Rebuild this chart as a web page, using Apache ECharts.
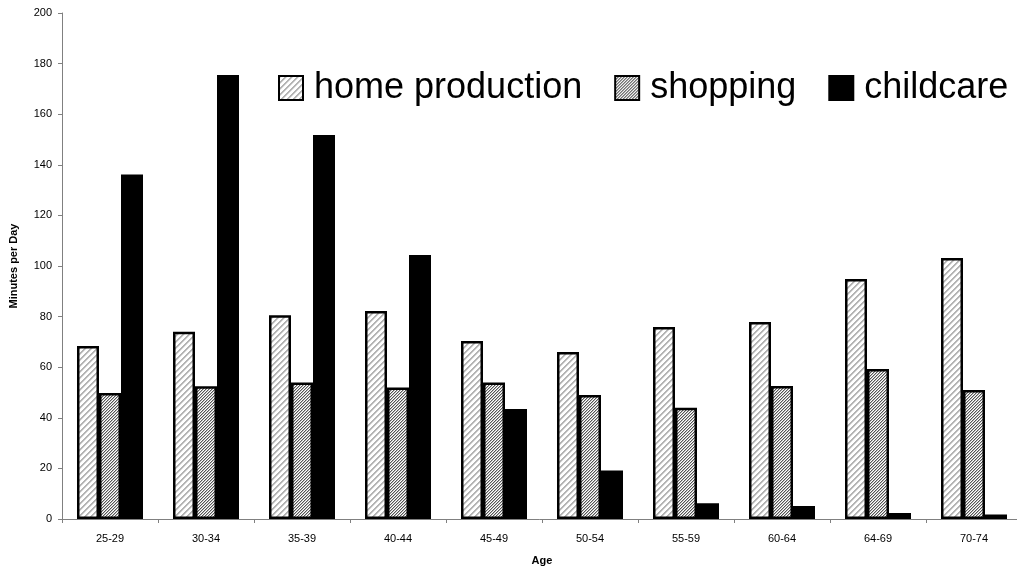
<!DOCTYPE html>
<html>
<head>
<meta charset="utf-8">
<script src="https://cdn.jsdelivr.net/npm/echarts@6/dist/echarts.min.js"></script>
<style>
  html, body { margin: 0; padding: 0; background: #fff; }
  #chart { width: 1017px; height: 573px; }
</style>
</head>
<body>
<div id="chart"></div>
<script>
// Age groups and daily minutes by activity
const ageGroups = ['25-29', '30-34', '35-39', '40-44', '45-49', '50-54', '55-59', '60-64', '64-69', '70-74'];
const homeProduction = [68.4, 74, 80.5, 82.2, 70.4, 66, 75.9, 77.9, 94.9, 103.2];
const shopping = [49.8, 52.5, 54, 52, 54, 49, 44, 52.6, 59.3, 51];
const childcare = [136.2, 175.5, 151.8, 104.3, 43.5, 19.2, 6.2, 5.1, 2.4, 1.8];
const yTicks = { min: 0, max: 200, step: 20 };

const FONT = 'Arial, "Liberation Sans", sans-serif';

// Build a repeating diagonal-stripe tile ("/" direction) pixel by pixel.
// shades maps (x + y) % size to a grey level; missing entries stay white.
function stripeTile(size, shades) {
  const c = document.createElement('canvas');
  c.width = size; c.height = size;
  const ctx = c.getContext('2d');
  const img = ctx.createImageData(size, size);
  for (let y = 0; y < size; y++) {
    for (let x = 0; x < size; x++) {
      const k = (x + y) % size;
      const g = shades[k] !== undefined ? shades[k] : 255;
      const i = (y * size + x) * 4;
      img.data[i] = g; img.data[i + 1] = g; img.data[i + 2] = g; img.data[i + 3] = 255;
    }
  }
  ctx.putImageData(img, 0, 0);
  return { image: c, repeat: 'repeat' };
}

const homeFill = stripeTile(6, { 0: 180, 1: 180, 2: 222 });
const shopFill = stripeTile(3, { 0: 85, 1: 185 });

const chart = echarts.init(document.getElementById('chart'), null, { renderer: 'canvas' });

const axisGrey = '#808080';

chart.setOption({
  animation: false,
  backgroundColor: '#fff',
  grid: { left: 62, top: 13, width: 960, height: 506, containLabel: false, outerBoundsMode: 'none' },
  legend: {
    left: 278,
    top: 70,
    width: 760,
    padding: 0,
    itemWidth: 24,
    itemHeight: 24,
    itemGap: 32,
    icon: 'rect',
    z: 10,
    textStyle: { fontFamily: FONT, fontSize: 36, color: '#000', padding: [0, 0, 0, 6] },
    data: ['home production', 'shopping', 'childcare']
  },
  xAxis: {
    type: 'category',
    data: ageGroups,
    boundaryGap: true,
    name: 'Age',
    nameLocation: 'middle',
    nameGap: 36,
    nameTextStyle: { fontFamily: FONT, fontSize: 11, fontWeight: 'bold', color: '#000' },
    axisLine: { lineStyle: { color: axisGrey, width: 1 } },
    axisTick: { show: true, length: 4, interval: 0, lineStyle: { color: axisGrey } },
    axisLabel: { fontFamily: FONT, fontSize: 11, color: '#000', margin: 14, interval: 0 },
    splitLine: { show: false }
  },
  yAxis: {
    type: 'value',
    min: yTicks.min,
    max: yTicks.max,
    interval: yTicks.step,
    name: 'Minutes per Day',
    nameLocation: 'middle',
    nameGap: 43,
    nameRotate: 90,
    nameTextStyle: { fontFamily: FONT, fontSize: 11, fontWeight: 'bold', color: '#000' },
    axisLine: { show: true, lineStyle: { color: axisGrey, width: 1 } },
    axisTick: { show: true, length: 4, lineStyle: { color: axisGrey } },
    axisLabel: { fontFamily: FONT, fontSize: 11, color: '#000', margin: 10 },
    splitLine: { show: false }
  },
  series: [
    {
      name: 'home production',
      type: 'bar',
      data: homeProduction,
      barWidth: 22,
      barGap: '0%',
      itemStyle: { color: homeFill, borderColor: '#000', borderWidth: 2.5 }
    },
    {
      name: 'shopping',
      type: 'bar',
      data: shopping,
      barWidth: 22,
      barGap: '0%',
      itemStyle: { color: shopFill, borderColor: '#000', borderWidth: 2.5 }
    },
    {
      name: 'childcare',
      type: 'bar',
      data: childcare,
      barWidth: 22,
      barGap: '0%',
      itemStyle: { color: '#000', borderColor: '#000', borderWidth: 2 }
    }
  ]
});
</script>
</body>
</html>
